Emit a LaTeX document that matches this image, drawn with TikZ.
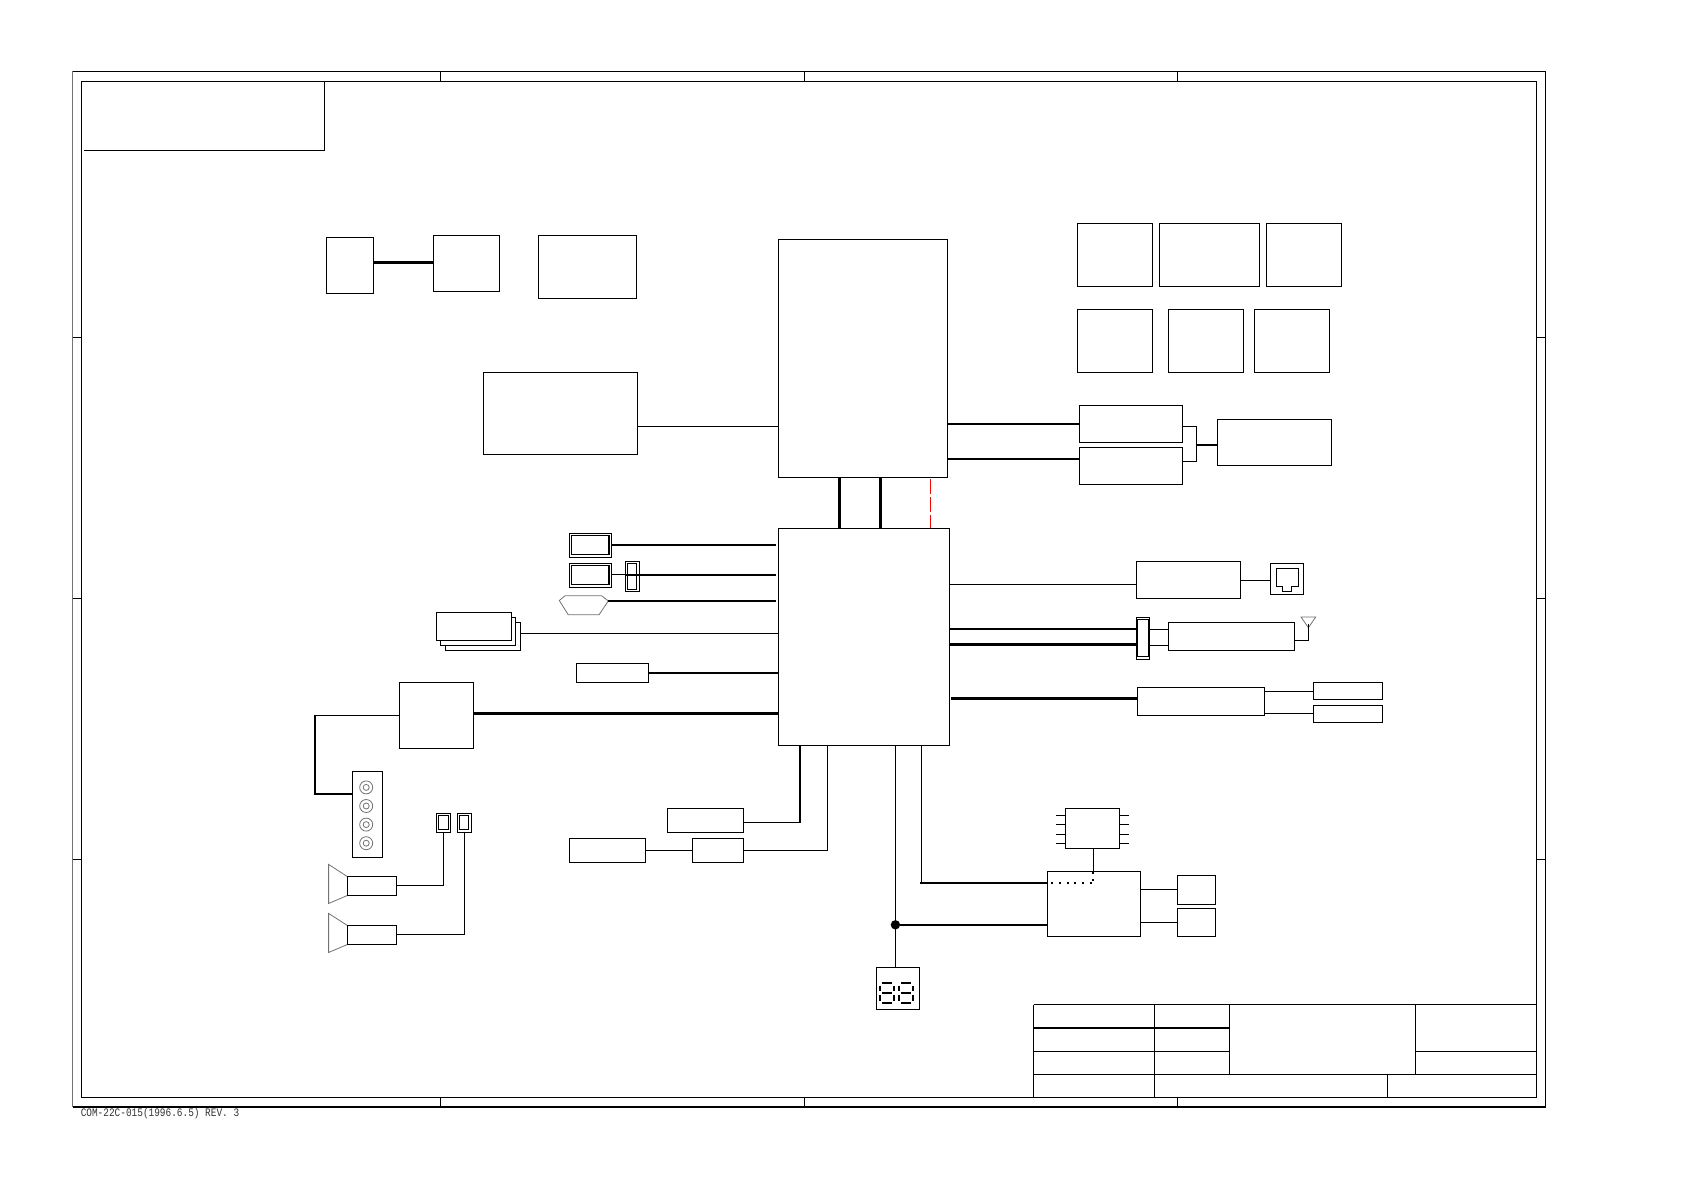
\documentclass[tikz,border=0pt]{standalone}
\usepackage{fontspec}
\setmainfont{Liberation Mono}
\tikzset{
  bx/.style={draw=black,line width=1.1pt,fill=white,rectangle,inner sep=0pt,outer sep=0pt},
  thn/.style={draw=black,line width=1pt},
  thk/.style={draw=black,line width=2.6pt},
  hvy/.style={draw=black,line width=3pt},
  med/.style={draw=black,line width=1.5pt},
  gry/.style={draw=black!55,line width=0.8pt},
  seg/.style={draw=black,line width=1.6pt},
  pinl/.style={draw=black,line width=0.9pt},
}
\newcommand{\bx}[6][]{%
  \pgfmathsetmacro\bxw{#5-#3}\pgfmathsetmacro\bxh{#6-#4}%
  \node[bx,minimum width=\bxw pt,minimum height=\bxh pt,#1] (#2) at ({(#3+#5)/2},{(#4+#6)/2}) {};}
\begin{document}
\begin{tikzpicture}[x=1pt,y=-1pt]
\useasboundingbox[fill=white] (0,0) rectangle (1684,1190);
% frame
\bx[draw=none,fill=none]{outer}{72.5}{71.3}{1545.5}{1107}
\bx{inner}{81.6}{81.2}{1536.4}{1097.4}
\draw[thn] (outer.north west) -- (outer.north east) -- (outer.south east);
\draw[gry] (outer.north west) -- (outer.south west);
\draw[draw=black,line width=2pt] (outer.south west) -- (outer.south east);
\foreach \tx in {440.3,804.4,1177.6}{
  \draw[thn] (\tx,0 |- outer.north) -- (\tx,0 |- inner.north);
  \draw[thn] (\tx,0 |- inner.south) -- (\tx,0 |- outer.south);
}
\foreach \ty in {337.3,598.8,859.5}{
  \draw[thn] (outer.west |- 0,\ty) -- (inner.west |- 0,\ty);
  \draw[thn] (inner.east |- 0,\ty) -- (outer.east |- 0,\ty);
}
% corner box
\coordinate (cornerTop) at (324.4,81.2);
\coordinate (cornerBR) at (324.4,150.3);
\coordinate (cornerBL) at (83.8,150.3);
\draw[thn] (cornerTop) -- (cornerBR) -- (cornerBL);
% upper left
\bx{a}{326.5}{237.6}{373.2}{293.3}
\bx{b}{433.4}{235.3}{499.4}{291.8}
\bx{c}{538.6}{235.3}{636.4}{298.6}
\draw[hvy] (a.east |- 0,263) -- (b.west |- 0,263);
\bx{d}{483.3}{372.3}{637.4}{454.2}
% centre
\bx{cpu}{778.6}{239.4}{947.8}{477.4}
\bx{south}{778.6}{528.2}{949.4}{745.3}
\draw[thn] (d.east |- 0,426.5) -- (cpu.west |- 0,426.5);
\draw[hvy] (843.3,0 |- cpu.south) ++(-4.2,0) -- (839.1,0 |- south.north);
\draw[hvy] (880.9,0 |- cpu.south) -- (880.9,0 |- south.north);
\draw[red,line width=0.9pt,dash pattern=on 15pt off 3pt] (930.6,0 |- cpu.south) ++(0,1.5) -- (930.6,0 |- south.north);
% top right boxes
\bx{r1}{1077.2}{223.5}{1152.4}{286.5}
\bx{r2}{1159.4}{223.5}{1259.3}{286.5}
\bx{r3}{1266.2}{223.5}{1341.4}{286.5}
\bx{r4}{1077.2}{309.3}{1152.4}{372.3}
\bx{r5}{1168.5}{309.3}{1243.7}{372.3}
\bx{r6}{1254.4}{309.3}{1329.6}{372.3}
\bx{p1}{1079.4}{405.3}{1182.5}{442.5}
\bx{p2}{1079.4}{447.4}{1182.5}{484.2}
\bx{p3}{1217.4}{419.3}{1331.2}{465.2}
\draw[thk] (cpu.east |- 0,423.9) -- (p1.west |- 0,423.9);
\draw[thk] (cpu.east |- 0,458.8) -- (p2.west |- 0,458.8);
\coordinate (brj) at (1196.4,444.8);
\draw[thn] (p1.east |- 0,426.5) -| (brj) |- (p2.east |- 0,461.4);
\draw[thk] (brj) -- (p3.west |- brj);
% left of south
\bx{dv1o}{569.8}{533.5}{611.7}{557.4}
\bx{dv1i}{571.4}{535.4}{609}{554.8}
\bx{dv2o}{569.8}{563.5}{611.7}{587.4}
\bx{dv2i}{571.4}{565.8}{609}{584.4}
\bx{cn0o}{625.6}{561.2}{639.6}{591.2}
\bx{cn0i}{627.2}{563.1}{636.4}{589.7}
\coordinate (dv1end) at (776,544.9);
\coordinate (dv2end) at (776,574.9);
\coordinate (hexend) at (776,601);
\draw[thk] (dv1o.east |- dv1end) -- (dv1end);
\draw[thn] (dv2o.east |- dv2end) -- (cn0i.east |- dv2end);
\draw[thk] (cn0o.west |- dv2end) -- (dv2end);
\draw[gry] (559.3,600.5) -- (565,595.8) -- (601.7,595.8) -- (608.3,601) -- (599,614.8) -- (568.3,614.8) -- cycle;
\coordinate (hexr) at (608.3,601);
\draw[draw=black,line width=2.3pt] (hexr) -- (hexend);
\bx{st3}{445.7}{622.3}{520.4}{650.8}
\bx{st2}{440.3}{617.4}{515.5}{645.5}
\bx{st1}{436.6}{612.5}{511.8}{640.5}
\draw[thn] (st3.east |- 0,633.3) -- (south.west |- 0,633.3);
\bx{e}{576.7}{663.3}{648.7}{682.7}
\draw[thk] (e.east |- 0,672.8) -- (south.west |- 0,672.8);
\bx{f}{399.5}{682.3}{473.6}{748.7}
\draw[hvy] (f.east |- 0,713) -- (south.west |- 0,713);
\bx{g}{352.8}{771.5}{382.4}{857.2}
\coordinate (fgx) at (315,760);
\draw[med] (f.west |- 0,715.3) -| (fgx) |- (g.west |- 0,794.2);
\foreach \cy/\nm in {787.4/ja,806/jb,824.6/jc,843.2/jd}{
  \node[circle,gry,inner sep=0pt,minimum size=13pt] (\nm) at (366.2,\cy) {};
  \node[circle,gry,inner sep=0pt,minimum size=6pt] (\nm i) at (\nm) {};
}
\bx{s1o}{436.6}{813.2}{450.6}{832.6}
\bx{s1i}{438.7}{815.5}{448.4}{829.9}
\bx{s2o}{457.5}{813.2}{471.5}{832.6}
\bx{s2i}{459.7}{815.5}{468.8}{829.9}
\draw[gry] (347.4,876.6) -- (328.6,864.4) -- (328.6,903.5) -- (347.4,895.5);
\bx{sp1}{347.4}{876.6}{396.3}{895.5}
\draw[gry] (347.4,925.5) -- (328.6,913.4) -- (328.6,952.5) -- (347.4,944.5);
\bx{sp2}{347.4}{925.5}{396.3}{944.5}
\draw[thn] (sp1.east |- 0,885.3) -| (s1o.south);
\draw[thn] (sp2.east |- 0,934.2) -| (s2o.south);
\bx{h}{667.5}{808.3}{743.8}{832.6}
\bx{i}{569.2}{838.2}{645.5}{862.5}
\bx{j}{692.8}{838.2}{743.8}{862.5}
\draw[med] (h.east |- 0,822.3) -| (800.2,0 |- south.south);
\draw[thn] (i.east |- 0,850.4) -- (j.west |- 0,850.4);
\draw[thn] (j.east |- 0,850.4) -| (827.5,0 |- south.south);
% right of south
\bx{k}{1136.3}{561.2}{1240.5}{598.8}
\bx{jack}{1270.3}{563.7}{1303.7}{594.3}
\draw[thn] (south.east |- 0,584.4) -- (k.west |- 0,584.4);
\draw[thn] (k.east |- 0,580.2) -- (jack.west |- 0,580.2);
\draw[thn] (1276,568.7) -- (1298.7,568.7) -- (1298.7,586.7) -- (1291.7,586.7) -- (1291.7,591) -- (1282,591) -- (1282,586.7) -- (1276,586.7) -- cycle;
\bx{lo}{1136.3}{617.4}{1149.7}{659.5}
\bx{li}{1137.4}{619.7}{1148.1}{656.9}
\bx{m}{1168.5}{622.3}{1294.7}{650.8}
\draw[thk] (south.east |- 0,628.8) -- (lo.west |- 0,628.8);
\draw[thk] (south.east |- 0,644.7) -- (lo.west |- 0,644.7);
\draw[thn] (lo.east |- 0,629.5) -- (m.west |- 0,629.5);
\draw[thn] (lo.east |- 0,645.1) -- (m.west |- 0,645.1);
\coordinate (ant) at (1308.5,624);
\draw[gry] (1301,617) -- (1315.7,617) -- (1308.4,627.7) -- cycle;
\draw[thn] (m.east |- 0,640.5) -| (ant);
\bx{n}{1137.4}{687.2}{1264.6}{715.7}
\coordinate (nstart) at (951,698.8);
\draw[hvy] (nstart) -- (n.west |- nstart);
\bx{n1}{1313.5}{682.3}{1382.2}{699.4}
\bx{n2}{1313.5}{705.4}{1382.2}{722.5}
\draw[thn] (n.east |- 0,691.4) -- (n1.west |- 0,691.4);
\draw[thn] (n.east |- 0,713.4) -- (n2.west |- 0,713.4);
% lower cluster
\bx{q}{1065.4}{808.3}{1119.6}{848.5}
\foreach \py in {815.1,824.2,834.4,843.6}{
  \draw[pinl] (1056.3,\py) -- (q.west |- 0,\py);
  \draw[pinl] (q.east |- 0,\py) -- (1128.8,\py);
}
\bx{pp}{1047.7}{871.3}{1140.6}{936.5}
\draw[thn] (1093.3,0 |- q.south) -- (1093.3,0 |- pp.north);
\foreach \dx/\dy in {1051.7/883,1060/883,1068/883,1075.3/883,1083.3/883,1091/883,1093.3/880,1093.3/872.5}{
  \fill[black] (\dx-1,\dy-1) rectangle (\dx+1,\dy+1);
}
\bx{u1}{1177.6}{875.4}{1215.2}{904.6}
\bx{u2}{1177.6}{908.4}{1215.2}{936.5}
\draw[thn] (pp.east |- 0,889.1) -- (u1.west |- 0,889.1);
\draw[thn] (pp.east |- 0,922.1) -- (u2.west |- 0,922.1);
\bx{disp}{876.2}{967.2}{919.3}{1009.5}
\node[circle,fill=black,inner sep=0pt,minimum size=9.4pt] (dot) at (895.4,924.8) {};
\draw[thn] (895.7,0 |- south.south) -- (895.7,0 |- disp.north);
\draw[thk] (dot) -- (pp.west |- dot);
\coordinate (p1c) at (921.7,883);
\draw[thn,line width=1.2pt] (921.7,0 |- south.south) -- (p1c);
\draw[thk] (p1c) ++(-1.3,0) -- (pp.west |- p1c);
% digits
\foreach \ox in {880,899}{
  \draw[seg] (\ox+2,983) -- (\ox+12,983);
  \draw[seg] (\ox+2,993) -- (\ox+12,993);
  \draw[seg] (\ox+2,1003) -- (\ox+12,1003);
  \draw[seg] (\ox,985.5) -- (\ox,991);
  \draw[seg] (\ox+14,985.5) -- (\ox+14,991);
  \draw[seg] (\ox,995) -- (\ox,1001);
  \draw[seg] (\ox+14,995) -- (\ox+14,1001);
}
% title block
\coordinate (tb1) at (1033.7,1004.5);
\coordinate (tb2) at (1154.5,1004.5);
\coordinate (tb3) at (1229.7,1004.5);
\coordinate (tb4) at (1415.5,1004.5);
\draw[thn] (tb1) -- (tb1 -| inner.east);
\draw[thn] (tb1) -- (tb1 |- inner.south);
\draw[thn] (tb2) -- (tb2 |- inner.south);
\draw[thn] (tb3) -- (1229.7,1074.3);
\draw[thn] (tb4) -- (1415.5,1074.3);
\draw[thn] (1387.6,1074.3) -- (1387.6,0 |- inner.south);
\draw[thn,line width=1.25pt] (1033.7,1028) -- (1229.7,1028);
\draw[thn] (1033.7,1051.5) -- (1229.7,1051.5);
\draw[thn] (1415.5,1051.5) -- (inner.east |- 0,1051.5);
\draw[thn,line width=1.25pt] (1033.7,1074.3) -- (inner.east |- 0,1074.3);
% footer text
\node[anchor=west,inner sep=0pt,font=\fontsize{11.5}{12}\selectfont,text=black!80,xscale=0.82,transform shape] (ft) at (80.6,1113.6) {COM-22C-015(1996.6.5) REV. 3};
\end{tikzpicture}
\end{document}
